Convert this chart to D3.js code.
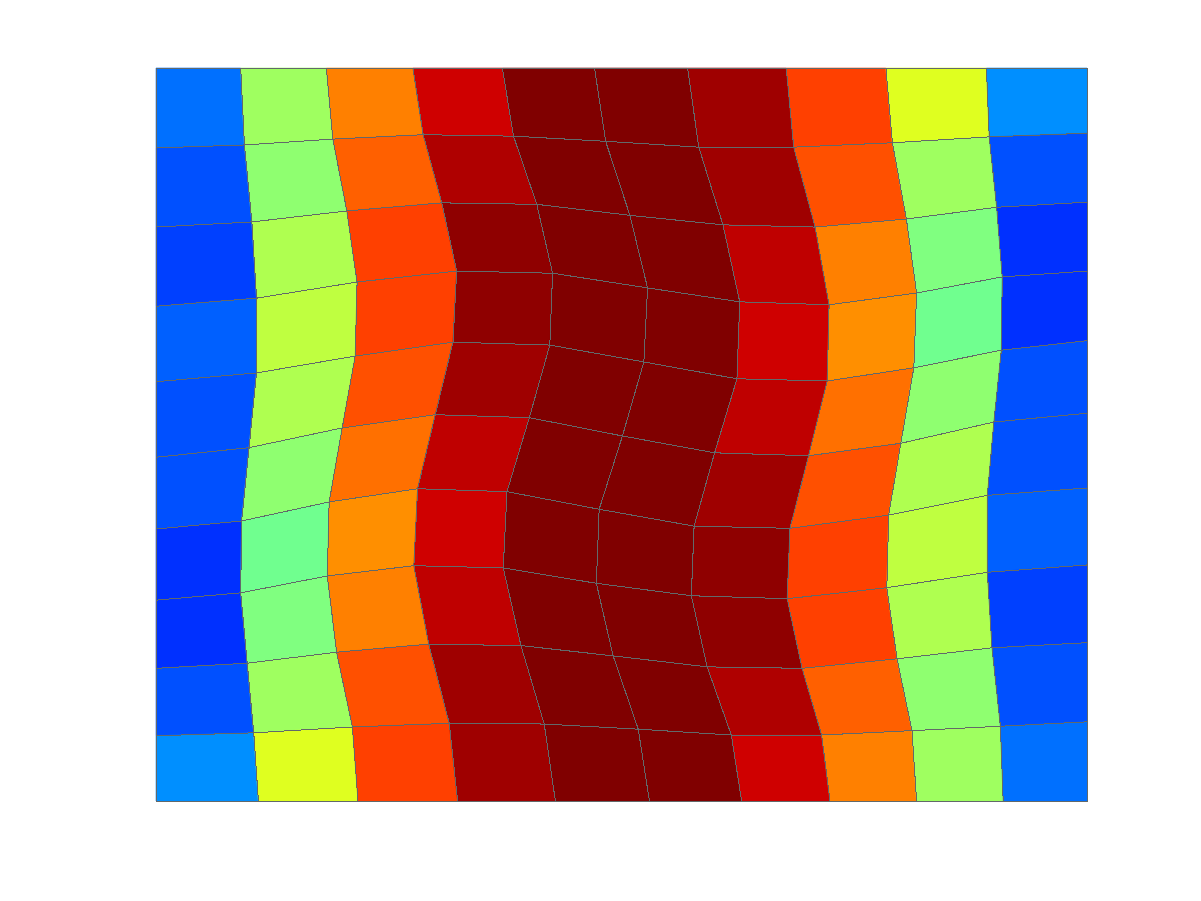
<!DOCTYPE html>
<html>
<head>
<meta charset="utf-8">
<script src="https://cdn.jsdelivr.net/npm/d3@7"></script>
<style>
  body { margin: 0; background: #fff; }
  svg { display: block; }
</style>
</head>
<body>
<svg width="1201" height="901"></svg>
<script>
// grid vertices (11 x 11), rows from top to bottom
var X = [
  [0, 0.91, 1.83, 2.76, 3.72, 4.71, 5.71, 6.77, 7.84, 8.92, 10],
  [0, 0.95, 1.90, 2.87, 3.84, 4.83, 5.83, 6.85, 7.91, 8.95, 10],
  [0, 1.03, 2.05, 3.07, 4.09, 5.09, 6.09, 7.08, 8.06, 9.03, 10],
  [0, 1.08, 2.16, 3.23, 4.26, 5.28, 6.27, 7.23, 8.17, 9.09, 10],
  [0, 1.08, 2.14, 3.19, 4.23, 5.24, 6.24, 7.21, 8.14, 9.08, 10],
  [0, 1.00, 2.00, 3.00, 4.01, 5.01, 6.00, 7.01, 8.00, 9.00, 10],
  [0, 0.92, 1.86, 2.81, 3.77, 4.76, 5.78, 6.81, 7.87, 8.93, 10],
  [0, 0.91, 1.84, 2.77, 3.73, 4.73, 5.75, 6.78, 7.85, 8.93, 10],
  [0, 0.98, 1.94, 2.93, 3.92, 4.91, 5.92, 6.94, 7.96, 8.98, 10],
  [0, 1.05, 2.11, 3.15, 4.17, 5.18, 6.18, 7.15, 8.12, 9.07, 10],
  [0, 1.10, 2.17, 3.24, 4.29, 5.30, 6.29, 7.24, 8.17, 9.10, 10]
];
var Y = [
  [10, 10, 10, 10, 10, 10, 10, 10, 10, 10, 10],
  [8.91, 8.95, 9.03, 9.09, 9.07, 9.00, 8.92, 8.92, 8.98, 9.06, 9.11],
  [7.83, 7.90, 8.05, 8.16, 8.14, 7.99, 7.86, 7.83, 7.94, 8.10, 8.17],
  [6.75, 6.86, 7.08, 7.23, 7.20, 7.00, 6.81, 6.77, 6.93, 7.15, 7.23],
  [5.72, 5.84, 6.07, 6.26, 6.22, 5.99, 5.76, 5.73, 5.91, 6.15, 6.28],
  [4.69, 4.82, 5.09, 5.27, 5.23, 4.98, 4.75, 4.71, 4.88, 5.17, 5.29],
  [3.71, 3.82, 4.08, 4.26, 4.22, 3.98, 3.75, 3.72, 3.90, 4.17, 4.27],
  [2.74, 2.84, 3.07, 3.21, 3.18, 2.97, 2.80, 2.76, 2.91, 3.12, 3.22],
  [1.81, 1.88, 2.03, 2.14, 2.12, 1.98, 1.83, 1.81, 1.94, 2.09, 2.16],
  [0.89, 0.93, 1.01, 1.06, 1.05, 0.98, 0.90, 0.90, 0.96, 1.02, 1.08],
  [0, 0, 0, 0, 0, 0, 0, 0, 0, 0, 0]
];
// cell values (10 x 10), flat shaded
var C = [
  [0.227, 0.523, 0.742, 0.914, 0.992, 0.992, 0.961, 0.805, 0.586, 0.258],
  [0.195, 0.508, 0.773, 0.945, 0.992, 0.992, 0.961, 0.789, 0.523, 0.195],
  [0.180, 0.539, 0.805, 0.977, 0.992, 0.992, 0.930, 0.742, 0.492, 0.164],
  [0.211, 0.555, 0.805, 0.977, 0.992, 0.992, 0.914, 0.727, 0.477, 0.164],
  [0.195, 0.539, 0.789, 0.961, 0.992, 0.992, 0.930, 0.758, 0.508, 0.195],
  [0.195, 0.508, 0.758, 0.930, 0.992, 0.992, 0.961, 0.789, 0.539, 0.195],
  [0.164, 0.477, 0.727, 0.914, 0.992, 0.992, 0.977, 0.805, 0.555, 0.211],
  [0.164, 0.492, 0.742, 0.930, 0.992, 0.992, 0.977, 0.805, 0.539, 0.180],
  [0.195, 0.523, 0.789, 0.961, 0.992, 0.992, 0.945, 0.773, 0.508, 0.195],
  [0.258, 0.586, 0.805, 0.961, 0.992, 0.992, 0.914, 0.742, 0.523, 0.227]
];

var svg = d3.select("svg");

var x = d3.scaleLinear().domain([0, 10]).range([156, 1087]);
var y = d3.scaleLinear().domain([0, 10]).range([801, 68]);

// 64-level jet colormap
function clamp(v) { return Math.max(0, Math.min(1, v)); }
var jet = d3.range(64).map(function(i) {
  var t = (i + 1) / 64 * 4;
  var r = clamp(Math.min(t - 1.5, -t + 4.5));
  var g = clamp(Math.min(t - 0.5, -t + 3.5));
  var b = clamp(Math.min(t + 0.5, -t + 2.5));
  return d3.rgb(r * 255, g * 255, b * 255).formatHex();
});
var color = d3.scaleQuantize().domain([0, 1]).range(jet);

var cells = [];
for (var r = 0; r < C.length; r++) {
  for (var c = 0; c < C[r].length; c++) {
    cells.push({
      v: C[r][c],
      pts: [[X[r][c], Y[r][c]], [X[r][c+1], Y[r][c+1]],
            [X[r+1][c+1], Y[r+1][c+1]], [X[r+1][c], Y[r+1][c]]]
    });
  }
}

var line = d3.line()
    .x(function(d) { return x(d[0]); })
    .y(function(d) { return y(d[1]); })
    .curve(d3.curveLinearClosed);

var g = svg.append("g").attr("class", "pcolor");

g.selectAll("path.cell")
  .data(cells)
  .enter().append("path")
    .attr("class", "cell")
    .attr("d", function(d) { return line(d.pts); })
    .attr("fill", function(d) { return color(d.v); })
    .attr("stroke", function(d) { return color(d.v); })
    .attr("stroke-width", 0.6);

g.selectAll("path.edge")
  .data(cells)
  .enter().append("path")
    .attr("class", "edge")
    .attr("d", function(d) { return line(d.pts); })
    .attr("fill", "none")
    .attr("stroke", "#62696a")
    .attr("stroke-width", 1)
    .style("shape-rendering", "crispEdges");
</script>
</body>
</html>
